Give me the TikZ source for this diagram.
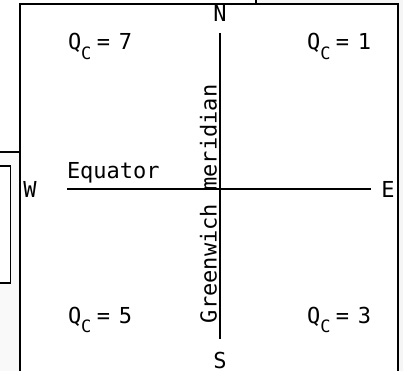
\documentclass[tikz,border=0pt]{standalone}
\usepackage{fontspec}
\newfontfamily\pix{DejaVu Sans Mono}
\begin{document}
\begin{tikzpicture}[x=1pt,y=-1pt,
  lbl/.style={font=\pix\fontsize{22}{24}\selectfont,inner sep=0pt,outer sep=0pt,text=black},
  axis/.style={line width=1.4pt},
  frame/.style={line width=1.2pt}]
\useasboundingbox (0,0) rectangle (403,371);
\fill[white] (0,0) rectangle (403,371);
\fill[gray!8] (256,0) rectangle (403,4);
\fill[gray!8] (398,0) rectangle (403,371);
\fill[gray!5] (0,152) rectangle (20,371);
\fill[white] (0,166) rectangle (10.5,283);
\draw[frame] (0,152) -- (20,152);
\draw[frame] (0,166) -- (10.5,166) -- (10.5,283) -- (0,283);
\draw[frame] (256,0) -- (256,4);
\draw[frame] (20,371) -- (20,4) -- (398,4) -- (398,371);
% compass letters
\node[lbl,anchor=base] (n) at (220,22) {N};
\node[lbl,anchor=base] (s) at (220,368) {S};
\node[lbl] (w) at (30,189) {W};
\node[lbl] (e) at (388,189) {E};
% axes
\coordinate (ntop) at (220,33);
\coordinate (sbot) at (220,339);
\coordinate (wend) at (67,189);
\coordinate (eend) at (371,189);
\draw[axis] (ntop) -- (sbot);
\draw[axis] (wend) -- (eend);
% labels
\node[lbl,anchor=base west] (eq) at (67,178.5) {Equator};
\node[lbl,anchor=base west,rotate=90] (gm) at (216.5,323) {Greenwich meridian};
\newcommand{\qc}[1]{Q\raisebox{-0.42em}{\fontsize{17}{17}\selectfont C}\kern5.5pt=\kern8.6pt#1}
\node[lbl,anchor=base west] (q7) at (68,50) {\qc{7}};
\node[lbl,anchor=base west] (q1) at (307,50) {\qc{1}};
\node[lbl,anchor=base west] (q5) at (68,323) {\qc{5}};
\node[lbl,anchor=base west] (q3) at (307,323) {\qc{3}};
\end{tikzpicture}
\end{document}
